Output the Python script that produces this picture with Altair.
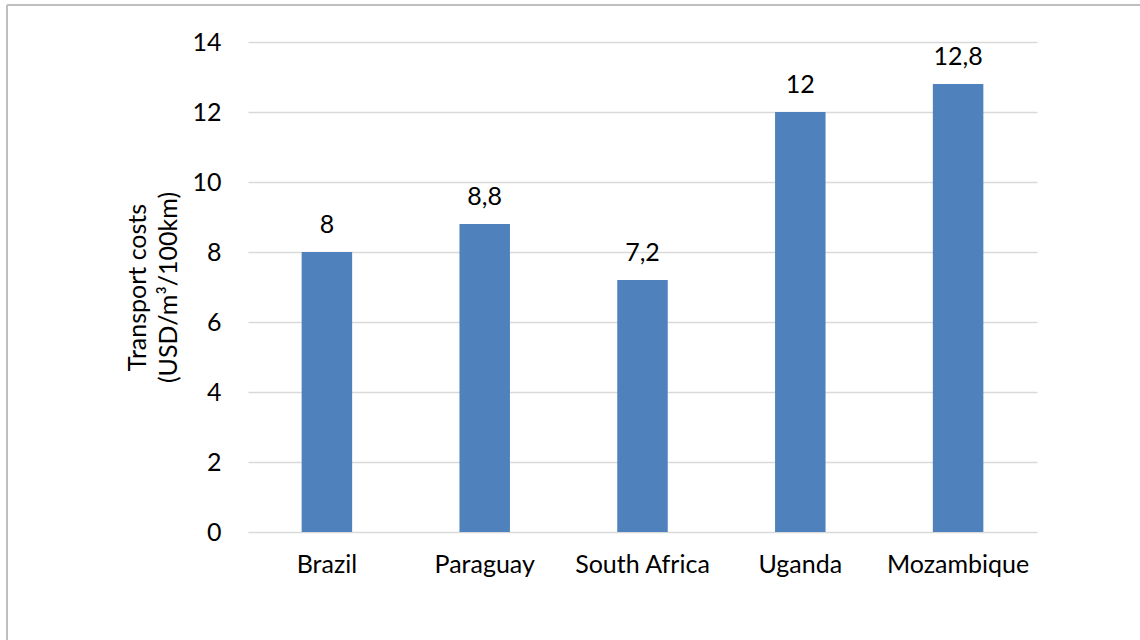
import altair as alt
import pandas as pd

countries = ["Brazil", "Paraguay", "South Africa", "Uganda", "Mozambique"]
costs = [8, 8.8, 7.2, 12, 12.8]
labels = ["8", "8,8", "7,2", "12", "12,8"]
y_ticks = [0, 2, 4, 6, 8, 10, 12, 14]

df = pd.DataFrame({"country": countries, "cost": costs, "label": labels})

FONT = "Lato"
FS = 25

base = alt.Chart(df).encode(
    x=alt.X(
        "country:N",
        sort=countries,
        scale=alt.Scale(paddingInner=0.68, paddingOuter=0.34),
        axis=alt.Axis(
            title=None, labelAngle=0, domain=False, ticks=False, grid=False,
            labelPadding=20, labelFontSize=FS, labelColor="black", labelFont=FONT,
        ),
    ),
    y=alt.Y(
        "cost:Q",
        scale=alt.Scale(domain=[0, 14], nice=False),
        axis=alt.Axis(
            values=y_ticks,
            title=["Transport costs", "(USD/m³/100km)"],
            titleFont=FONT, titleFontSize=FS, titleFontWeight="normal",
            titleColor="black", titlePadding=10, titleLineHeight=31,
            domain=False, ticks=False, tickSize=0,
            labelPadding=27, labelFontSize=FS, labelColor="black", labelFont=FONT,
            gridColor="#D9D9D9", gridWidth=1.5,
        ),
    ),
)

bars = base.mark_bar(color="#4F81BD")
text = base.mark_text(
    baseline="alphabetic", dy=-19, fontSize=FS, font=FONT, color="black"
).encode(text="label:N")

one = pd.DataFrame({"a": [0]})
top_border = alt.Chart(one).mark_rule(color="#BFBFBF", strokeWidth=2).encode(
    x=alt.value(-241), x2=alt.value(1000), y=alt.value(-37)
)
left_border = alt.Chart(one).mark_rule(color="#BFBFBF", strokeWidth=2).encode(
    x=alt.value(-241), y=alt.value(-37), y2=alt.value(700)
)

chart = alt.layer(bars, text, top_border, left_border).properties(
    width=789,
    height=490,
    autosize="none",
    padding={"left": 248, "top": 42, "right": 103, "bottom": 108},
    background="white",
).configure_view(stroke=None)

chart.save("out.html", embed_options={"renderer": "svg", "actions": False})
